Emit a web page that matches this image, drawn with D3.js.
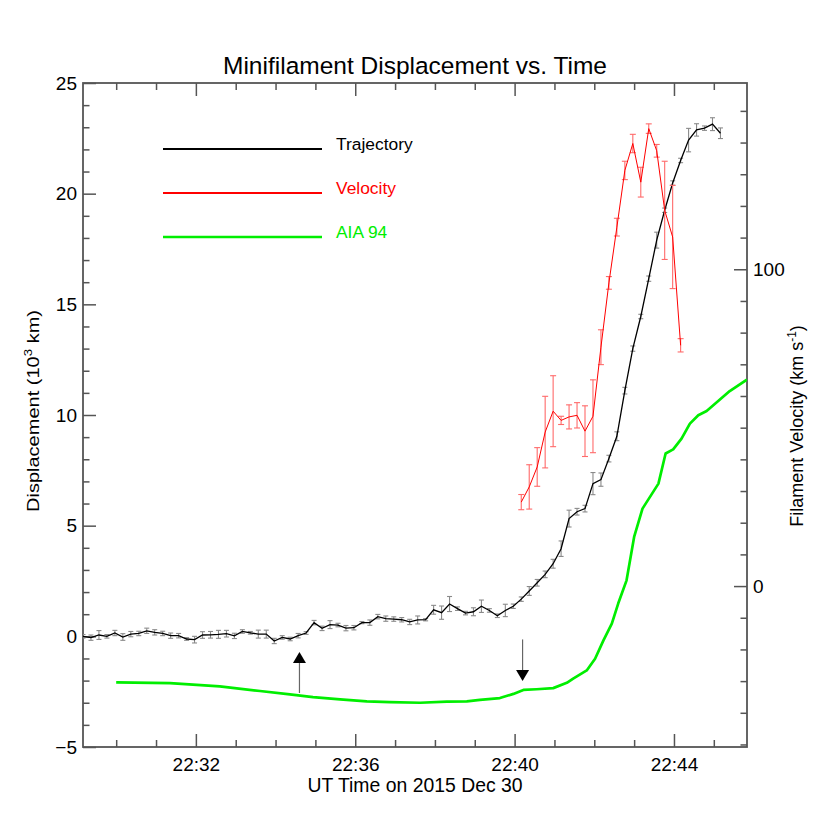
<!DOCTYPE html>
<html>
<head>
<meta charset="utf-8">
<script src="https://cdn.jsdelivr.net/npm/d3@7"></script>
<style>
  html, body { margin: 0; padding: 0; background: #fff; }
  svg { display: block; font-family: "Liberation Sans", Arial, Helvetica, sans-serif; }
</style>
</head>
<body>
<svg id="chart" width="830" height="830"></svg>
<script>
// ---------- DATA ----------
// time in minutes after 22:00 UT
const trajStart = 29.167;
const trajStep = 0.2; // 12 s cadence
const trajectory = [
  0.00, -0.06, 0.06, 0.00, 0.15, -0.03, 0.10, 0.13, 0.25, 0.18,
  0.13, 0.03, 0.03, -0.12, -0.15, 0.06, 0.07, 0.09, 0.12, 0.02,
  0.22, 0.16, 0.10, 0.10, -0.21, -0.05, -0.12, 0.03, 0.15, 0.62,
  0.36, 0.53, 0.51, 0.37, 0.39, 0.62, 0.62, 0.89, 0.80, 0.78,
  0.75, 0.65, 0.74, 0.75, 1.20, 1.07, 1.46, 1.25, 1.05, 1.11,
  1.36, 1.17, 0.93, 1.17, 1.36, 1.68, 2.05, 2.42, 2.80, 3.28,
  3.96, 5.32, 5.63, 5.77, 6.90, 7.08, 8.03, 9.04, 11.10, 13.00,
  14.45, 16.16, 17.90, 19.25, 20.48, 21.50, 22.42, 22.88, 22.96, 23.14,
  22.73
];
const trajectoryErr = [
  0.08, 0.12, 0.20, 0.08, 0.12, 0.15, 0.12, 0.10, 0.12, 0.12,
  0.10, 0.12, 0.10, 0.06, 0.15, 0.15, 0.15, 0.18, 0.15, 0.12,
  0.08, 0.06, 0.18, 0.18, 0.12, 0.08, 0.08, 0.10, 0.06, 0.10,
  0.10, 0.18, 0.08, 0.12, 0.10, 0.05, 0.12, 0.10, 0.12, 0.10,
  0.10, 0.12, 0.18, 0.05, 0.20, 0.30, 0.34, 0.08, 0.08, 0.18,
  0.28, 0.08, 0.08, 0.28, 0.10, 0.10, 0.20, 0.15, 0.15, 0.20,
  0.35, 0.38, 0.15, 0.15, 0.50, 0.30, 0.15, 0.20, 0.15, 0.12,
  0.10, 0.12, 0.36, 0.10, 0.10, 0.10, 0.53, 0.28, 0.10, 0.29,
  0.24
];
// velocity (km/s), first point at trajectory index 55
const velStartIndex = 55;
const velocity = [
  26.5, 31.3, 37.6, 48.6, 55.2, 52.3, 53.4, 53.9, 48.9, 53.6,
  75.4, 95.7, 113.3, 131.2, 139.7, 127.5, 144.4, 137.4, 118.6, 110.2,
  76.0
];
const velocityErr = [
  2.4, 7.0, 6.1, 11.3, 11.2, 1.3, 3.8, 4.0, 8.0, 11.5,
  5.5, 2.0, 2.8, 2.9, 2.9, 4.7, 1.5, 2.0, 15.5, 16.3,
  2.1
];
// AIA 94 light curve (scaled to displacement axis)
const aiaTime = [
  30.00, 31.35, 32.60, 33.61, 34.36, 34.94, 35.62, 36.29, 36.87, 37.63,
  38.30, 38.80, 39.13, 39.63, 39.97, 40.22, 40.55, 40.97, 41.31, 41.47,
  41.81, 42.02, 42.23, 42.44, 42.60, 42.81, 43.00, 43.21, 43.61, 43.79,
  43.98, 44.19, 44.40, 44.61, 44.82, 45.40, 45.83
];
const aiaValue = [
  -2.08, -2.11, -2.26, -2.47, -2.62, -2.75, -2.85, -2.94, -2.97, -3.00,
  -2.95, -2.94, -2.87, -2.79, -2.60, -2.42, -2.39, -2.34, -2.10, -1.91,
  -1.54, -1.01, -0.18, 0.57, 1.48, 2.53, 4.49, 5.77, 6.90, 8.26,
  8.45, 8.93, 9.61, 9.99, 10.18, 11.08, 11.60
];
// arrows: time, from value, to value
const arrowTimes = [34.6, 40.2];
const arrowFrom = [-2.56, -0.14];
const arrowTo = [-0.71, -2.02];

const xMajorTicks = [32, 36, 40, 44];
const xTickLabels = ["22:32", "22:36", "22:40", "22:44"];
const yLeftMajor = [-5, 0, 5, 10, 15, 20, 25];
const yRightMajor = [0, 100];

const legendNames = ["Trajectory", "Velocity", "AIA 94"];
const legendColors = ["#000000", "#ff0000", "#00ee00"];

// ---------- LAYOUT ----------
const L = 83, R = 747, T = 83, B = 747;
const svg = d3.select("#chart");
const x = d3.scaleLinear().domain([29.167, 45.833]).range([L, R]);
const y = d3.scaleLinear().domain([-5, 25]).range([B, T]);
const yv = d3.scaleLinear().domain([-50.8, 158.8]).range([B, T]);

const axisColor = "#555";
const fontSize = 19;

function styleAxis(g) {
  g.select(".domain").remove();
  g.selectAll("line").attr("stroke", axisColor).attr("stroke-width", 1.5);
  g.selectAll("text").attr("font-size", fontSize).attr("fill", "#000")
    .attr("font-family", "Liberation Sans, Arial, sans-serif");
}
const xMinor = d3.range(30, 46, 1).filter(d => !xMajorTicks.includes(d));
// bottom
svg.append("g").attr("transform", `translate(0,${B})`)
  .call(d3.axisBottom(x).tickValues(xMajorTicks).tickSize(-13).tickPadding(11)
    .tickFormat((d, i) => xTickLabels[i]))
  .call(styleAxis);
svg.append("g").attr("transform", `translate(0,${B})`)
  .call(d3.axisBottom(x).tickValues(xMinor).tickSize(-7).tickFormat(""))
  .call(styleAxis);
// top
svg.append("g").attr("transform", `translate(0,${T})`)
  .call(d3.axisTop(x).tickValues(xMajorTicks).tickSize(-13).tickFormat(""))
  .call(styleAxis);
svg.append("g").attr("transform", `translate(0,${T})`)
  .call(d3.axisTop(x).tickValues(xMinor).tickSize(-7).tickFormat(""))
  .call(styleAxis);
// left
svg.append("g").attr("transform", `translate(${L},0)`)
  .call(d3.axisLeft(y).tickValues(yLeftMajor).tickSize(-13).tickPadding(6).tickFormat(d3.format("d")))
  .call(styleAxis);
svg.append("g").attr("transform", `translate(${L},0)`)
  .call(d3.axisLeft(y).tickValues(d3.range(-4, 25, 1).filter(d => d % 5 !== 0)).tickSize(-6.5).tickFormat(""))
  .call(styleAxis);
// right
svg.append("g").attr("transform", `translate(${R},0)`)
  .call(d3.axisRight(yv).tickValues(yRightMajor).tickSize(-13).tickPadding(6).tickFormat(d3.format("d")))
  .call(styleAxis);
svg.append("g").attr("transform", `translate(${R},0)`)
  .call(d3.axisRight(yv).tickValues(d3.range(-50, 160, 10).filter(d => d % 100 !== 0)).tickSize(-6.5).tickFormat(""))
  .call(styleAxis);

// frame
svg.append("rect").attr("x", L).attr("y", T).attr("width", R - L).attr("height", B - T)
  .attr("fill", "none").attr("stroke", axisColor).attr("stroke-width", 1.8);

// clip
svg.append("clipPath").attr("id", "clip").append("rect")
  .attr("x", L).attr("y", T).attr("width", R - L).attr("height", B - T);
const plot = svg.append("g").attr("clip-path", "url(#clip)");

// ---------- AIA 94 ----------
const aiaData = aiaTime.map((t, i) => ({ t, v: aiaValue[i] }));
plot.append("path").datum(aiaData)
  .attr("fill", "none").attr("stroke", "#00ee00").attr("stroke-width", 2.7)
  .attr("stroke-linejoin", "round")
  .attr("d", d3.line().x(d => x(d.t)).y(d => y(d.v)));

// ---------- arrows ----------
arrowTimes.forEach((t, i) => {
  const x0 = x(t), y0 = y(arrowFrom[i]), y1 = y(arrowTo[i]);
  const dir = y1 < y0 ? -1 : 1; // -1 up
  const headLen = 11, headHalf = 6.5;
  const yBase = y1 - dir * headLen;
  plot.append("line").attr("x1", x0).attr("x2", x0).attr("y1", y0).attr("y2", yBase)
    .attr("stroke", "#666").attr("stroke-width", 1.2);
  plot.append("path")
    .attr("d", `M${x0},${y1} L${x0 - headHalf},${yBase} L${x0 + headHalf},${yBase} Z`)
    .attr("fill", "#000");
});

// ---------- Trajectory ----------
const trajData = trajectory.map((v, i) => ({ t: trajStart + trajStep * i, v, e: trajectoryErr[i] }));
const eb = plot.append("g").attr("stroke", "#8a8a8a").attr("stroke-width", 1.1);
trajData.forEach(d => {
  const cx = x(d.t), y1 = y(d.v - d.e), y2 = y(d.v + d.e);
  eb.append("line").attr("x1", cx).attr("x2", cx).attr("y1", y1).attr("y2", y2);
  eb.append("line").attr("x1", cx - 2.5).attr("x2", cx + 2.5).attr("y1", y1).attr("y2", y1);
  eb.append("line").attr("x1", cx - 2.5).attr("x2", cx + 2.5).attr("y1", y2).attr("y2", y2);
});
plot.append("path").datum(trajData)
  .attr("fill", "none").attr("stroke", "#000").attr("stroke-width", 1.3)
  .attr("d", d3.line().x(d => x(d.t)).y(d => y(d.v)));

// ---------- Velocity ----------
const velData = velocity.map((v, i) => ({ t: trajStart + trajStep * (velStartIndex + i), v, e: velocityErr[i] }));
const ebv = plot.append("g").attr("stroke", "#ff6a6a").attr("stroke-width", 1.1);
velData.forEach(d => {
  const cx = x(d.t), y1 = yv(d.v - d.e), y2 = yv(d.v + d.e);
  ebv.append("line").attr("x1", cx).attr("x2", cx).attr("y1", y1).attr("y2", y2);
  ebv.append("line").attr("x1", cx - 3).attr("x2", cx + 3).attr("y1", y1).attr("y2", y1);
  ebv.append("line").attr("x1", cx - 3).attr("x2", cx + 3).attr("y1", y2).attr("y2", y2);
});
plot.append("path").datum(velData)
  .attr("fill", "none").attr("stroke", "#ff0000").attr("stroke-width", 1)
  .attr("d", d3.line().x(d => x(d.t)).y(d => yv(d.v)));

// ---------- Legend ----------
const legend = svg.append("g");
legendNames.forEach((name, i) => {
  const ly = 149 + i * 44;
  legend.append("line").attr("x1", 163).attr("x2", 322).attr("y1", ly).attr("y2", ly)
    .attr("stroke", legendColors[i]).attr("stroke-width", i === 2 ? 2.4 : 2);
  legend.append("text").attr("x", 336).attr("y", ly + 0.5).attr("font-size", 17.4)
    .attr("fill", legendColors[i]).text(name);
});

// ---------- Titles ----------
svg.append("text").attr("x", 415).attr("y", 73.5).attr("text-anchor", "middle")
  .attr("font-size", 24.5).text("Minifilament Displacement vs. Time");
svg.append("text").attr("x", 415).attr("y", 792).attr("text-anchor", "middle")
  .attr("font-size", 19.4).text("UT Time on 2015 Dec 30");

const lt = svg.append("text").attr("transform", `translate(38.7,411) rotate(-90)`)
  .attr("text-anchor", "middle").attr("font-size", 16.5)
  .attr("textLength", 202).attr("lengthAdjust", "spacingAndGlyphs");
lt.append("tspan").text("Displacement (10");
lt.append("tspan").attr("font-size", 11).attr("dy", -7).text("3");
lt.append("tspan").attr("dy", 7).text(" km)");

const rt = svg.append("text").attr("transform", `translate(803,426) rotate(-90)`)
  .attr("text-anchor", "middle").attr("font-size", 18);
rt.append("tspan").text("Filament Velocity (km s");
rt.append("tspan").attr("font-size", 12).attr("dy", -7).text("-1");
rt.append("tspan").attr("dy", 7).text(")");
</script>
</body>
</html>
